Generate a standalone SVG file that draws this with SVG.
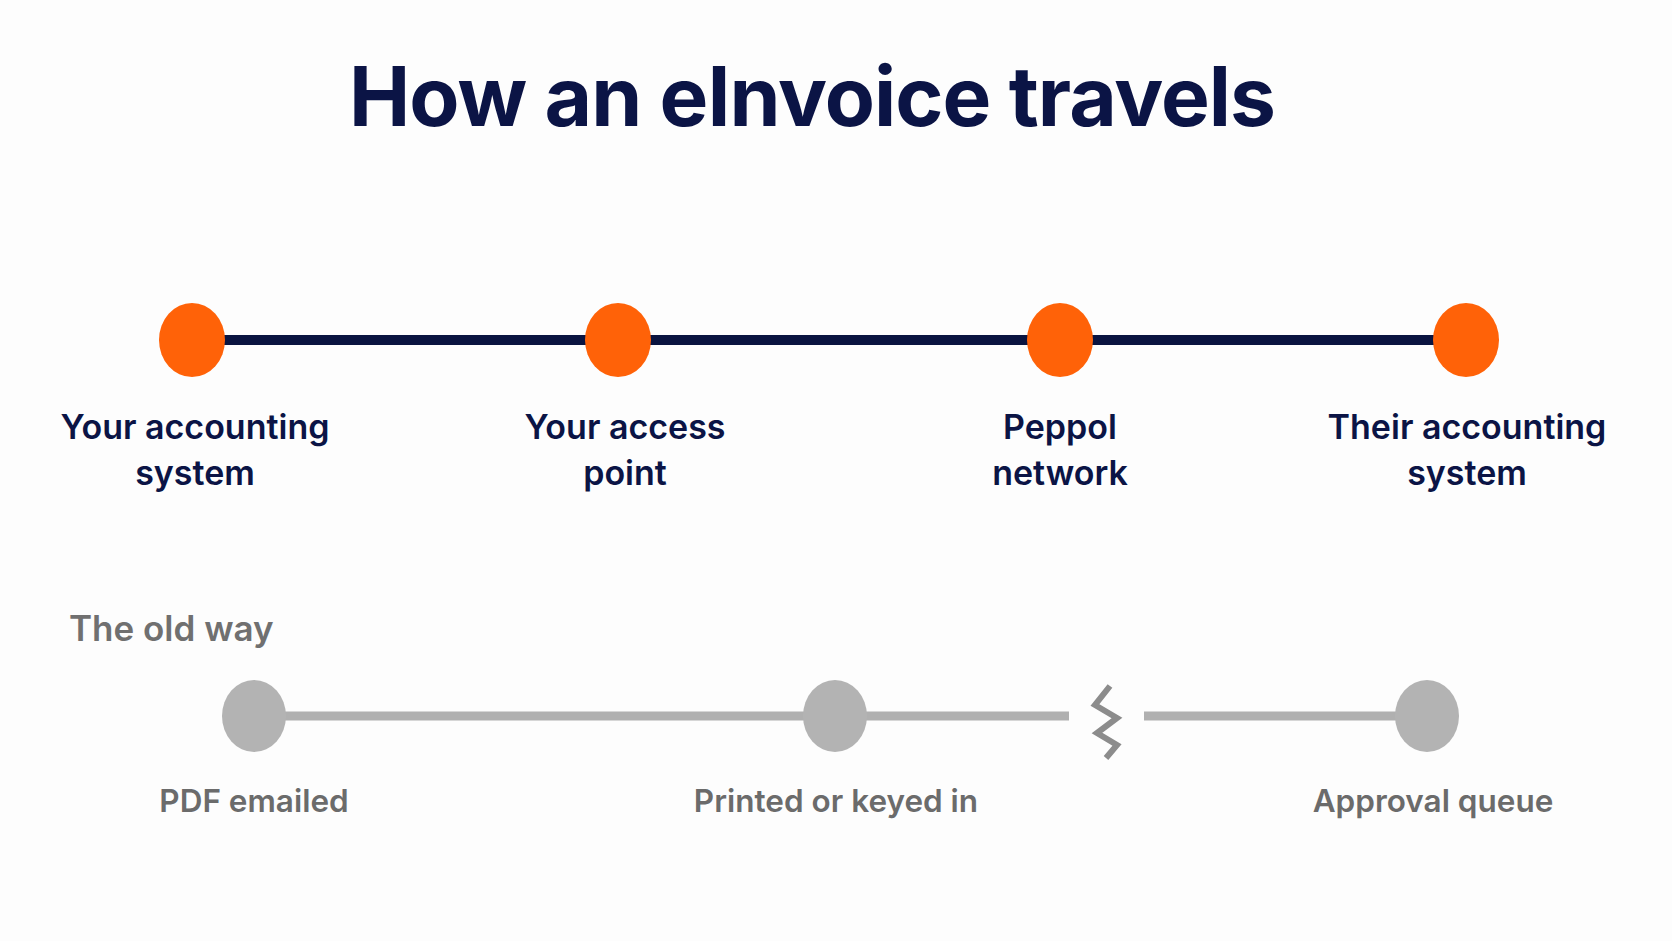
<svg xmlns="http://www.w3.org/2000/svg" width="1672" height="941" viewBox="0 0 1672 941">
<style>
.t{font-family:Inter,"Noto Sans",sans-serif;font-weight:700;fill:#0b1445}
.l{font-family:Inter,"Noto Sans",sans-serif;font-weight:600;font-size:34px;fill:#0b1445;text-anchor:middle}
.g{font-family:Inter,"Noto Sans",sans-serif;font-weight:600;font-size:31.5px;fill:#6b6b6b;text-anchor:middle}
.o{fill:#ff6208}
.c{fill:#b3b3b3}
</style>
<rect width="1672" height="941" fill="#fdfdfd"/>
<text class="t" x="812" y="126" font-size="82" letter-spacing="-1" text-anchor="middle">How an eInvoice travels</text>
<g id="connectors">
<line x1="192" y1="340" x2="1466" y2="340" stroke="#0a1440" stroke-width="10"/>
<line x1="254" y1="716" x2="1069" y2="716" stroke="#b0b0b0" stroke-width="9"/>
<line x1="1144" y1="716" x2="1427" y2="716" stroke="#b0b0b0" stroke-width="9"/>
<polyline points="1110,686 1095,705 1117,718 1097,733 1117,745 1106,758" fill="none" stroke="#8c8c8c" stroke-width="6"/>
</g>
<g id="n1"><ellipse class="o" cx="192" cy="340" rx="33" ry="37"/><text class="l" x="195" y="439">Your accounting</text><text class="l" x="195" y="485">system</text></g>
<g id="n2"><ellipse class="o" cx="618" cy="340" rx="33" ry="37"/><text class="l" x="625" y="439">Your access</text><text class="l" x="625" y="485">point</text></g>
<g id="n3"><ellipse class="o" cx="1060" cy="340" rx="33" ry="37"/><text class="l" x="1060" y="439">Peppol</text><text class="l" x="1060" y="485">network</text></g>
<g id="n4"><ellipse class="o" cx="1466" cy="340" rx="33" ry="37"/><text class="l" x="1467" y="439">Their accounting</text><text class="l" x="1467" y="485">system</text></g>
<text x="69" y="641" font-family="Inter,'Noto Sans',sans-serif" font-weight="600" font-size="35" fill="#707070">The old way</text>
<g id="o1"><ellipse class="c" cx="254" cy="716" rx="32" ry="36"/><text class="g" x="254" y="812">PDF emailed</text></g>
<g id="o2"><ellipse class="c" cx="835" cy="716" rx="32" ry="36"/><text class="g" x="836" y="812">Printed or keyed in</text></g>
<g id="o3"><ellipse class="c" cx="1427" cy="716" rx="32" ry="36"/><text class="g" x="1433" y="812">Approval queue</text></g>
</svg>
